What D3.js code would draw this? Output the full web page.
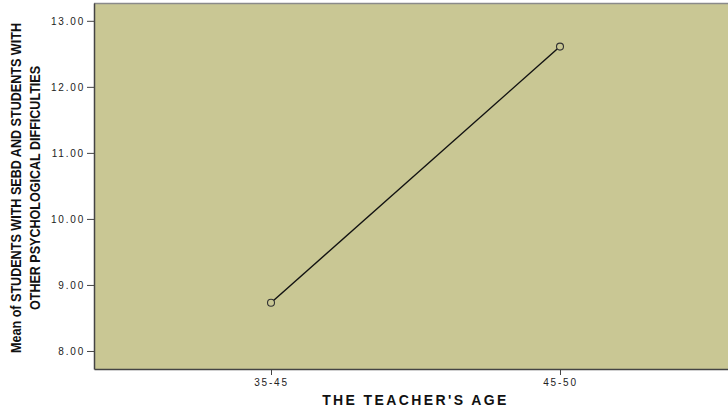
<!DOCTYPE html>
<html><head><meta charset="utf-8">
<script src="https://cdn.jsdelivr.net/npm/d3@7"></script>
<style>body{margin:0;background:#fff}svg{display:block}</style>
</head><body>
<svg id="c" width="728" height="411"></svg>
<script>
const categories = ["35-45", "45-50"];
const means = [8.73, 12.61];
const yTicks = [8, 9, 10, 11, 12, 13];
const xTitle = "THE TEACHER'S AGE";
const yTitleLines = ["Mean of STUDENTS WITH SEBD AND STUDENTS WITH", "OTHER PSYCHOLOGICAL DIFFICULTIES"];

const svg = d3.select("#c");
const L = 94, R = 737, T = 3, B = 369;
const x = d3.scalePoint().domain(categories).range([L, R]).padding(0.6125);
const y = d3.scaleLinear().domain([7.727, 13.27]).range([B, T]);

svg.append("rect").attr("x", L).attr("y", T).attr("width", R - L).attr("height", B - T)
  .attr("fill", "#c9c794").attr("stroke", "none");
svg.append("line").attr("x1", L).attr("x2", R).attr("y1", T + 0.5).attr("y2", T + 0.5).attr("stroke", "#8a8a8a").attr("stroke-width", 1.5);

const tickFont = "Liberation Sans, Arial, sans-serif";
const yAxis = svg.append("g").attr("transform", `translate(${L},0)`)
  .call(d3.axisLeft(y).tickValues(yTicks).tickFormat(d3.format(".2f")).tickSize(7).tickSizeOuter(0).tickPadding(2));
yAxis.select(".domain").attr("stroke", "#444").attr("stroke-width", 1.5);
yAxis.selectAll(".tick line").attr("stroke", "#444");
yAxis.selectAll("text").attr("font-family", tickFont).attr("font-size", 10).attr("letter-spacing", 1.8).attr("fill", "#222");

const xAxis = svg.append("g").attr("transform", `translate(0,${B})`)
  .call(d3.axisBottom(x).tickSize(6).tickSizeOuter(0).tickPadding(4));
xAxis.select(".domain").attr("stroke", "#444").attr("stroke-width", 1.5);
xAxis.selectAll(".tick line").attr("stroke", "#444");
xAxis.selectAll("text").attr("font-family", tickFont).attr("font-size", 10).attr("letter-spacing", 1.8).attr("fill", "#222");

const line = d3.line().x((d, i) => x(categories[i])).y(d => y(d));
svg.append("path").datum(means).attr("d", line).attr("fill", "none").attr("stroke", "#111").attr("stroke-width", 1.4);
svg.selectAll("circle.pt").data(means).join("circle").attr("class", "pt")
  .attr("cx", (d, i) => x(categories[i])).attr("cy", d => y(d)).attr("r", 3.5)
  .attr("fill", "#c9c794").attr("stroke", "#333").attr("stroke-width", 1.1);

svg.append("text").attr("x", (L + R) / 2).attr("y", 405).attr("text-anchor", "middle")
  .attr("font-family", tickFont).attr("font-weight", "bold").attr("font-size", 14).attr("letter-spacing", 2.4)
  .attr("fill", "#111").text(xTitle);

const yt = svg.append("text").attr("transform", `translate(21,${(T + B) / 2 + 2}) rotate(-90)`)
  .attr("text-anchor", "middle").attr("font-family", "Liberation Sans Narrow, Arial Narrow, sans-serif")
  .attr("font-weight", "bold").attr("font-size", 14).attr("fill", "#111");
const lens = [330, 244];
yTitleLines.forEach((t, i) => yt.append("tspan").attr("x", 0).attr("dy", i === 0 ? 0 : 19)
  .attr("textLength", lens[i]).attr("lengthAdjust", "spacingAndGlyphs").text(t));
</script>
</body></html>
